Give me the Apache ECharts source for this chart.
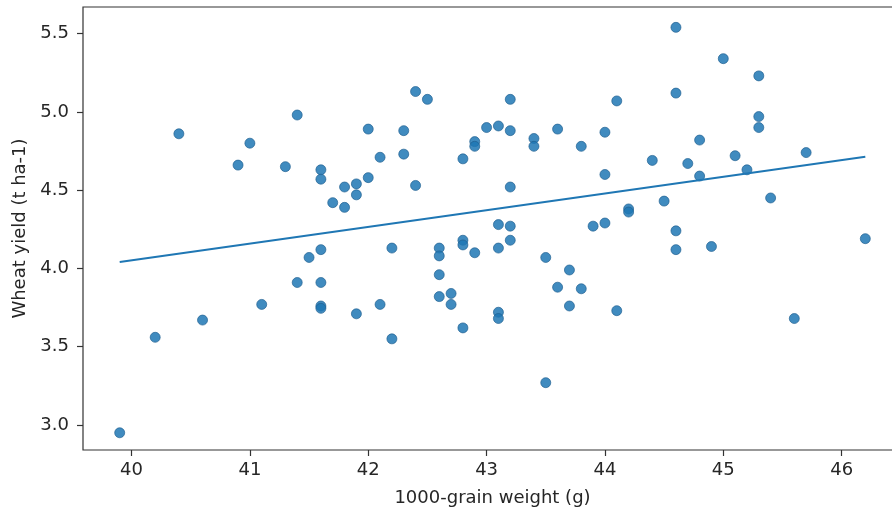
<!DOCTYPE html>
<html>
<head>
<meta charset="utf-8">
<script src="https://cdn.jsdelivr.net/npm/echarts@6/dist/echarts.min.js"></script>
<style>html,body{margin:0;padding:0;background:#fff}#c{width:892px;height:514px}</style>
</head>
<body>
<div id="c"></div>
<script>
// grain weight (g) and wheat yield (t ha-1)
const grainWeight = [39.9,40.2,40.4,40.6,40.9,41.0,41.1,41.3,41.4,41.4,41.5,41.6,41.6,41.6,41.6,41.6,41.6,41.7,41.8,41.8,41.9,41.9,41.9,42.0,42.0,42.1,42.1,42.2,42.2,42.3,42.3,42.4,42.4,42.5,42.6,42.6,42.6,42.6,42.7,42.7,42.8,42.8,42.8,42.8,42.9,42.9,42.9,43.0,43.1,43.1,43.1,43.1,43.1,43.2,43.2,43.2,43.2,43.2,43.4,43.4,43.5,43.5,43.6,43.6,43.7,43.7,43.8,43.8,43.9,44.0,44.0,44.0,44.1,44.1,44.2,44.2,44.4,44.5,44.6,44.6,44.6,44.6,44.7,44.8,44.8,44.9,45.0,45.1,45.2,45.3,45.3,45.3,45.4,45.6,45.7,46.2];
const wheatYield = [2.95,3.56,4.86,3.67,4.66,4.80,3.77,4.65,4.98,3.91,4.07,4.63,4.57,4.12,3.91,3.76,3.745,4.42,4.52,4.39,4.54,4.47,3.71,4.89,4.58,4.71,3.77,4.13,3.55,4.88,4.73,5.13,4.53,5.08,4.13,4.08,3.96,3.82,3.84,3.77,4.70,4.18,4.15,3.62,4.81,4.78,4.10,4.90,4.91,4.28,4.13,3.72,3.68,5.08,4.88,4.52,4.27,4.18,4.83,4.78,4.07,3.27,4.89,3.88,3.99,3.76,4.78,3.87,4.27,4.87,4.60,4.29,5.07,3.73,4.38,4.36,4.69,4.43,5.54,5.12,4.24,4.12,4.67,4.82,4.59,4.14,5.34,4.72,4.63,5.23,4.97,4.90,4.45,3.68,4.74,4.19];
// fitted line end points
const fitX = [39.9, 46.2];
const fitY = [4.041, 4.714];
// tick labels
const xTicks = [40, 41, 42, 43, 44, 45, 46];
const yTicks = [3.0, 3.5, 4.0, 4.5, 5.0, 5.5];

const points = grainWeight.map((x, i) => [x, wheatYield[i]]);
const fitLine = fitX.map((x, i) => [x, fitY[i]]);

const font = {fontFamily: 'DejaVu Sans', fontSize: 18, color: '#262626'};
const chart = echarts.init(document.getElementById('c'), null, {renderer: 'canvas'});
chart.setOption({
  animation: false,
  backgroundColor: '#fff',
  grid: {left: 83, top: 7, width: 819, height: 443, outerBoundsMode: 'none', containLabel: false,
         show: true, borderColor: '#333', borderWidth: 1.2, backgroundColor: 'transparent'},
  xAxis: {
    type: 'value', min: 39.59, max: 46.51,
    name: '1000-grain weight (g)', nameLocation: 'middle', nameGap: 39,
    nameTextStyle: font,
    axisLine: {show: false},
    splitLine: {show: false},
    axisTick: {show: true, length: 6, lineStyle: {color: '#333', width: 1.2}, customValues: xTicks},
    axisLabel: Object.assign({margin: 11, customValues: xTicks, formatter: v => String(v)}, font)
  },
  yAxis: {
    type: 'value', min: 2.84, max: 5.67,
    name: 'Wheat yield (t ha-1)', nameLocation: 'middle', nameGap: 50, nameRotate: 90,
    nameTextStyle: font,
    axisLine: {show: false},
    splitLine: {show: false},
    axisTick: {show: true, length: 6, lineStyle: {color: '#333', width: 1.2}, customValues: yTicks},
    axisLabel: Object.assign({margin: 14, customValues: yTicks, formatter: v => v.toFixed(1)}, font)
  },
  series: [
    {
      type: 'scatter', data: points, symbolSize: 10,
      itemStyle: {color: '#1f77b4', opacity: 0.85, borderColor: '#1f5f90', borderWidth: 0.8},
      z: 2
    },
    {
      type: 'line', data: fitLine, showSymbol: false, symbol: 'none',
      lineStyle: {color: '#1f77b4', width: 2}, z: 3
    }
  ]
});
</script>
</body>
</html>
